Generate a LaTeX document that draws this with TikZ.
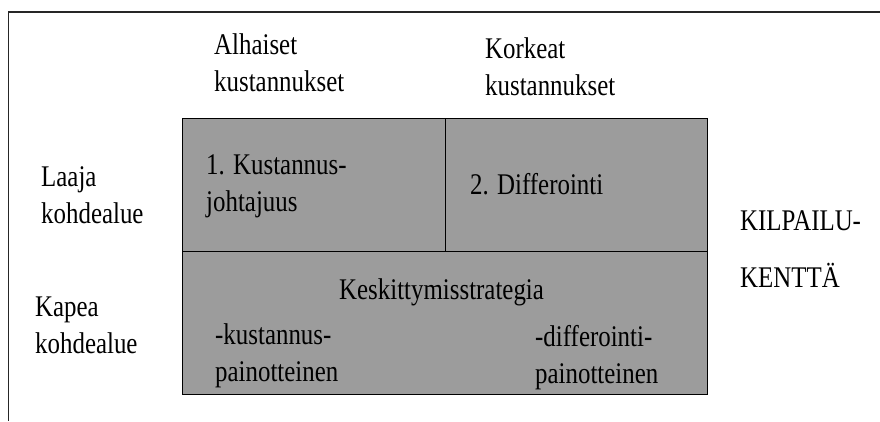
\documentclass[tikz,border=0pt]{standalone}
\usepackage{fontspec}
\setmainfont{Liberation Serif}[FakeStretch=0.83]
\begin{document}
\begin{tikzpicture}[x=1pt,y=-1pt,
  lbl/.style={anchor=base west,inner sep=0pt,align=left,
    font=\fontsize{30}{37}\selectfont},
  frameline/.style={line width=1.2pt,draw=black!85},
  cell/.style={fill=black!39,draw=black,line width=0.9pt}]
\useasboundingbox (0,0) rectangle (880,421);
% open frame: top and left edges only
\draw[frameline] (880,12) -- (8.5,12) -- (8.5,421);
% strategy grid
\path[cell] (182,118) rectangle (707,394.5);
\draw[line width=0.9pt] (182,251.5) -- (707,251.5);
\draw[line width=0.9pt] (445,118) -- (445,251.5);
% column headings (anchored at the baseline of the last line)
\node[lbl] (low) at (214,91) {Alhaiset\\kustannukset};
\node[lbl] (high) at (485,95) {Korkeat\\kustannukset};
% row headings
\node[lbl] (wide) at (41,223) {Laaja\\kohdealue};
\node[lbl] (narrow) at (35,353) {Kapea\\kohdealue};
% cell texts
\node[lbl] (cost) at (206,211) {1. Kustannus-\\johtajuus};
\node[lbl] (diff) at (470,194) {2. Differointi};
\node[lbl] (focus) at (339,299) {Keskittymisstrategia};
\node[lbl] (fcost) at (215,381) {-kustannus-\\painotteinen};
\node[lbl] (fdiff) at (535,383) {-differointi-\\painotteinen};
% side label
\node[lbl,font=\fontsize{30}{57}\selectfont] (field) at (740,287) {KILPAILU-\\KENTTÄ};
\end{tikzpicture}
\end{document}
